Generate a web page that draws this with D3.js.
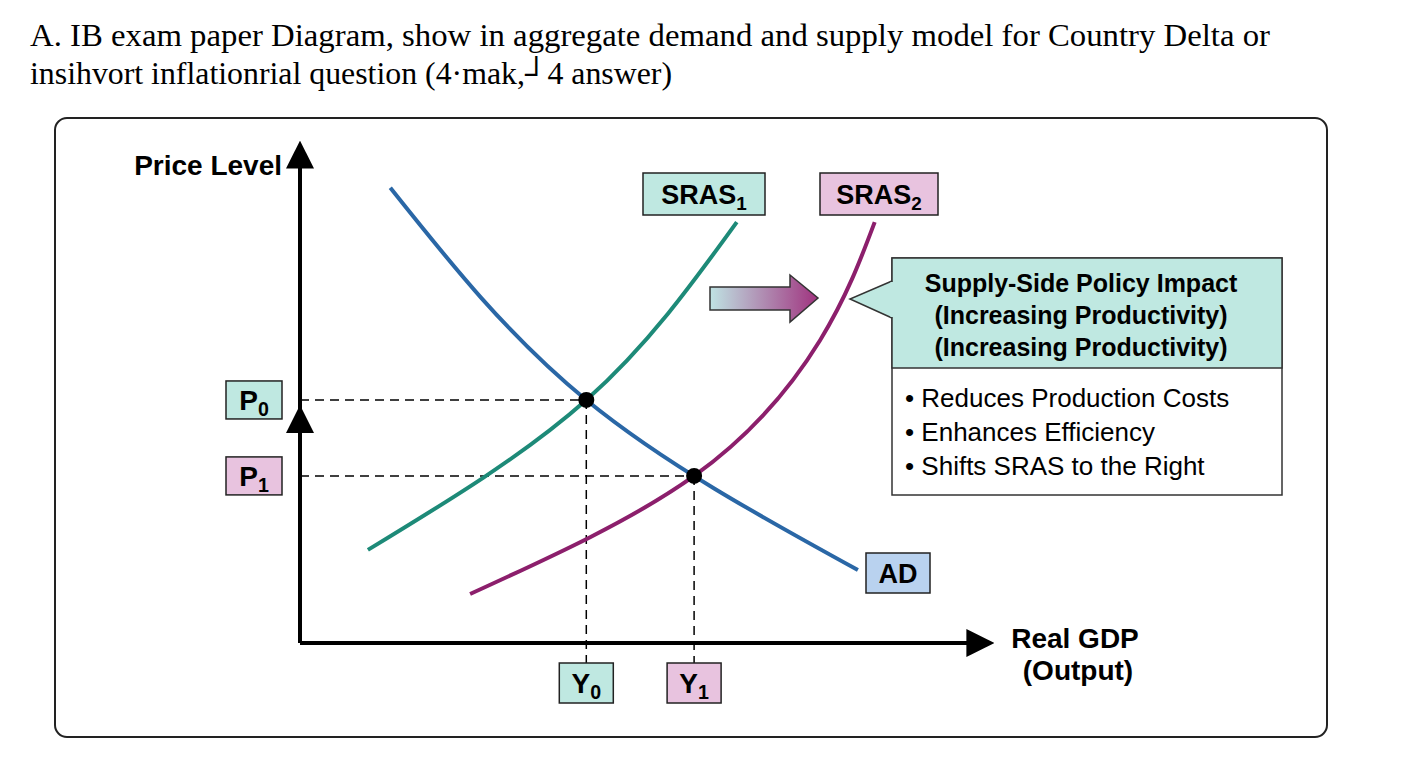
<!DOCTYPE html>
<html><head><meta charset="utf-8">
<script src="https://cdn.jsdelivr.net/npm/d3@7"></script>
<style>body{margin:0;background:#fff}</style></head>
<body><svg id="c" width="1408" height="768"></svg>
<script>
// curve points (data units 0-100)
var adPts = [[12.9,92.9],[40.9,49.6],[79.7,14.9]];
var sras1Pts = [[9.7,19.0],[40.9,49.6],[62.4,85.9]];
var sras2Pts = [[24.3,10.0],[56.3,34.1],[74.3,61.8],[82.1,85.9]];
var equilibria = [{p:"P", y:"Y", i:"0", x:40.9, v:49.6, fill:"#bfe8e1"}, {p:"P", y:"Y", i:"1", x:56.3, v:34.1, fill:"#e8c3df"}];
var bullets = ["• Reduces Production Costs", "• Enhances Efficiency", "• Shifts SRAS to the Right"];

var svg = d3.select("#c");
var x = d3.scaleLinear().domain([0,100]).range([300,1000]);
var y = d3.scaleLinear().domain([0,100]).range([643,153]);
var teal="#bfe8e1", pink="#e8c3df", blue="#b9d2ef";
var F = "Liberation Sans, Arial, sans-serif";

svg.append("text").attr("x",30).attr("y",46).attr("font-family","Liberation Serif, serif").attr("font-size",31).attr("textLength",1240).attr("lengthAdjust","spacingAndGlyphs").text("A. IB exam paper Diagram, show in aggregate demand and supply model for Country Delta or");
svg.append("text").attr("x",30).attr("y",84).attr("font-family","Liberation Serif, serif").attr("font-size",31).attr("textLength",642).attr("lengthAdjust","spacingAndGlyphs").text("insihvort inflationrial question (4·mak,┘4 answer)");

svg.append("rect").attr("x",55).attr("y",118).attr("width",1272).attr("height",619).attr("rx",12).attr("fill","none").attr("stroke","#222").attr("stroke-width",2);

var defs = svg.append("defs");
defs.append("marker").attr("id","ah").attr("viewBox","0 0 10 10").attr("refX",2).attr("refY",5).attr("markerWidth",7).attr("markerHeight",7).attr("markerUnits","strokeWidth").attr("orient","auto")
  .append("path").attr("d","M0,0L10,5L0,10z").attr("fill","#000");
var g = defs.append("linearGradient").attr("id","gr");
g.append("stop").attr("offset","0").attr("stop-color","#bfe3e3");
g.append("stop").attr("offset","1").attr("stop-color","#a0337f");

// axes
svg.append("line").attr("x1",x(0)).attr("y1",y(0)).attr("x2",x(0)).attr("y2",y(100)+10).attr("stroke","#000").attr("stroke-width",4).attr("marker-end","url(#ah)");
svg.append("line").attr("x1",x(0)).attr("y1",y(0)).attr("x2",x(96)).attr("y2",y(0)).attr("stroke","#000").attr("stroke-width",4).attr("marker-end","url(#ah)");
svg.append("line").attr("x1",x(0)).attr("y1",y(40)).attr("x2",x(0)).attr("y2",y(44)).attr("stroke","#000").attr("stroke-width",4).attr("marker-end","url(#ah)");
svg.append("text").attr("x",282).attr("y",175).attr("text-anchor","end").attr("font-family",F).attr("font-weight","bold").attr("font-size",28).text("Price Level");
svg.append("text").attr("x",1075).attr("y",648).attr("text-anchor","middle").attr("font-family",F).attr("font-weight","bold").attr("font-size",28).text("Real GDP");
svg.append("text").attr("x",1078).attr("y",680).attr("text-anchor","middle").attr("font-family",F).attr("font-weight","bold").attr("font-size",28).text("(Output)");

// dashed guides
equilibria.forEach(function(e){
  svg.append("line").attr("x1",x(0)).attr("x2",x(e.x)).attr("y1",y(e.v)).attr("y2",y(e.v)).attr("stroke","#000").attr("stroke-width",1.5).attr("stroke-dasharray","9,6");
  svg.append("line").attr("x1",x(e.x)).attr("x2",x(e.x)).attr("y1",y(e.v)).attr("y2",y(0)+20).attr("stroke","#000").attr("stroke-width",1.5).attr("stroke-dasharray","9,6");
});

var line = d3.line().x(d=>x(d[0])).y(d=>y(d[1])).curve(d3.curveNatural);
[[adPts,"#2a67a6"],[sras1Pts,"#1d8a78"],[sras2Pts,"#8c1f6c"]].forEach(function(c){
  svg.append("path").attr("d",line(c[0])).attr("fill","none").attr("stroke",c[1]).attr("stroke-width",4);
});
equilibria.forEach(function(e){
  svg.append("circle").attr("cx",x(e.x)).attr("cy",y(e.v)).attr("r",8).attr("fill","#000");
});

function label(cx,cy,w,h,fill,main,sub,size){
  svg.append("rect").attr("x",cx-w/2).attr("y",cy-h/2).attr("width",w).attr("height",h).attr("fill",fill).attr("stroke","#222").attr("stroke-width",1.5);
  var t = svg.append("text").attr("x",cx).attr("y",cy+size*0.36).attr("text-anchor","middle").attr("font-family",F).attr("font-weight","bold").attr("font-size",size);
  t.append("tspan").text(main);
  if(sub) t.append("tspan").attr("font-size",size*0.7).attr("dy",size*0.22).text(sub);
}
equilibria.forEach(function(e){
  label(254, y(e.v), 56, 38, e.fill, e.p, e.i, 28);
  label(x(e.x), 683, 54, 40, e.fill, e.y, e.i, 28);
});
label(704,194,122,42,teal,"SRAS","1",27);
label(879,194,118,42,pink,"SRAS","2",27);
label(898,573,64,40,blue,"AD",null,27);

// shift arrow
svg.append("path").attr("d","M710,287H790V275L818,298L790,322V310H710Z").attr("fill","url(#gr)").attr("stroke","#333").attr("stroke-width",1.5);

// callout
var bx=892, bw=390;
svg.append("rect").attr("x",bx).attr("y",258).attr("width",bw).attr("height",237).attr("fill","#fff").attr("stroke","#333").attr("stroke-width",1.5);
svg.append("rect").attr("x",bx).attr("y",258).attr("width",bw).attr("height",110).attr("fill",teal).attr("stroke","#333").attr("stroke-width",1.5);
svg.append("path").attr("d","M892,281L850,299L892,318").attr("fill",teal).attr("stroke","#333").attr("stroke-width",1.5);
svg.append("line").attr("x1",892).attr("x2",892).attr("y1",282).attr("y2",317).attr("stroke",teal).attr("stroke-width",3);
["Supply-Side Policy Impact","(Increasing Productivity)","(Increasing Productivity)"].forEach(function(s,i){
  svg.append("text").attr("x",bx+bw/2-6).attr("y",292+i*32).attr("text-anchor","middle").attr("font-family",F).attr("font-weight","bold").attr("font-size",25).text(s);
});
bullets.forEach(function(s,i){
  svg.append("text").attr("x",905).attr("y",407+i*34).attr("font-family",F).attr("font-size",26).text(s);
});
</script></body></html>
